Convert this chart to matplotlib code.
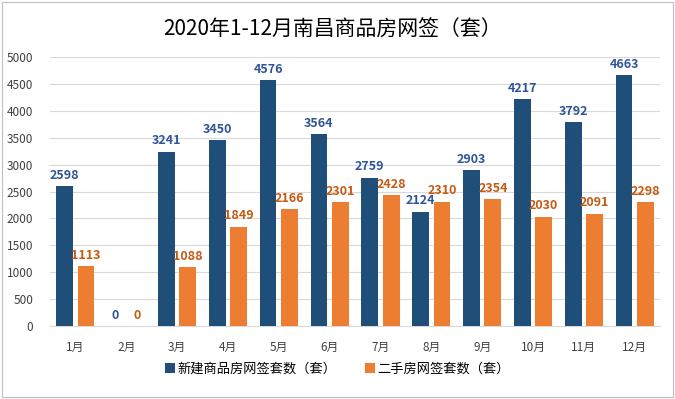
import numpy as np
import matplotlib.pyplot as plt
from matplotlib.patches import Rectangle

plt.rcParams['font.family'] = ['Noto Sans CJK SC', 'DejaVu Sans']
plt.rcParams['axes.unicode_minus'] = False

months = ['1月', '2月', '3月', '4月', '5月', '6月', '7月', '8月', '9月', '10月', '11月', '12月']
new_house = [2598, 0, 3241, 3450, 4576, 3564, 2759, 2124, 2903, 4217, 3792, 4663]
second_hand = [1113, 0, 1088, 1849, 2166, 2301, 2428, 2310, 2354, 2030, 2091, 2298]

c_blue = '#1F4E79'
c_orange = '#ED7D31'

fig = plt.figure(figsize=(6.75, 3.99), dpi=100)
ax = fig.add_axes([0.074, 0.183, 0.904, 0.674])

x = np.arange(len(months))
w = 0.33
off = 0.21
b1 = ax.bar(x - off, new_house, w, color=c_blue, label='新建商品房网签套数（套）', zorder=3)
b2 = ax.bar(x + off, second_hand, w, color=c_orange, label='二手房网签套数（套）', zorder=3)

for rect, v in zip(b1, new_house):
    ax.text(rect.get_x() + rect.get_width() / 2, v + 80, str(v), ha='center', va='bottom',
            fontsize=9, fontweight='bold', color='#2F5597', zorder=4)
for rect, v in zip(b2, second_hand):
    ax.text(rect.get_x() + rect.get_width() / 2, v + 80, str(v), ha='center', va='bottom',
            fontsize=9, fontweight='bold', color='#C55A11', zorder=4)

ax.set_ylim(0, 5000)
ax.set_xlim(-0.5, 11.5)
ax.set_yticks(range(0, 5001, 500))
ax.set_xticks(x)
ax.set_xticklabels(months)
ax.tick_params(axis='both', length=0, labelsize=8.5, colors='#404040')
ax.tick_params(axis='x', pad=11)
ax.tick_params(axis='y', pad=12)
ax.grid(axis='y', color='#D9D9D9', linewidth=0.8, zorder=0)
for s in ['top', 'right', 'left']:
    ax.spines[s].set_visible(False)
ax.spines['bottom'].set_color('#D9D9D9')

fig.text(0.492, 0.925, '2020年1-12月南昌商品房网签（套）', ha='center', va='center', fontsize=15, color='#000000')

fig.legend(loc='center', bbox_to_anchor=(0.5, 0.075), ncol=2, frameon=False, fontsize=9.5,
           handlelength=0.7, handleheight=0.7, handletextpad=0.2, columnspacing=2.2)

fig.patches.append(Rectangle((0.003, 0.005), 0.994, 0.99, transform=fig.transFigure,
                             fill=False, edgecolor='#BFBFBF', linewidth=0.8))

fig.savefig('out.png', dpi=100)
